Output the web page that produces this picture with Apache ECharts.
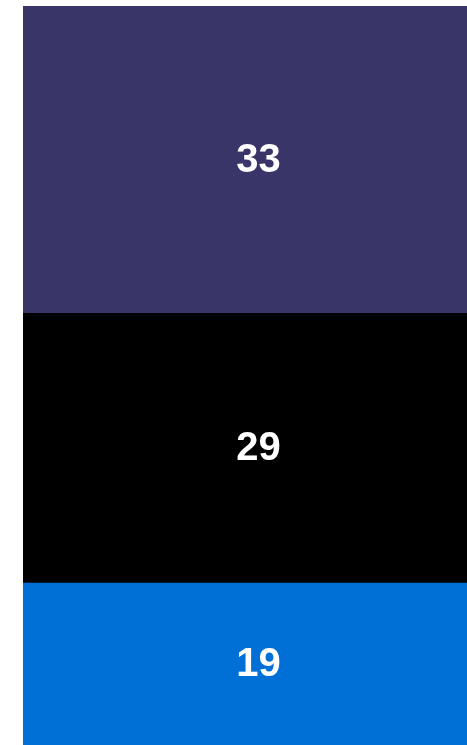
<!DOCTYPE html>
<html><head><meta charset="utf-8">
<script src="https://cdn.jsdelivr.net/npm/echarts@6/dist/echarts.min.js"></script>
<style>html,body{margin:0;padding:0;background:#fff}#c{width:467px;height:745px}</style>
</head><body><div id="c"></div>
<script>
var categories = ['A'];
var seriesNames = ['Bottom', 'Middle', 'Top'];
var bottomValues = [19];
var middleValues = [29];
var topValues = [33];
var colors = ['#0070d6', '#000000', '#3a3569'];

var chart = echarts.init(document.getElementById('c'), null, {renderer: 'canvas'});
var dataSets = [bottomValues, middleValues, topValues];
chart.setOption({
  animation: false,
  grid: {left: 23, right: 0, top: 6, bottom: 0, containLabel: false,
         show: true, borderWidth: 0, backgroundColor: colors[0]},
  xAxis: {type: 'category', data: categories, show: false},
  yAxis: {type: 'value', min: 1.56, max: 81, show: false},
  series: dataSets.map(function (d, i) {
    return {
      name: seriesNames[i], type: 'bar', stack: 'total', data: d,
      barWidth: '100%', itemStyle: {color: colors[i]},
      label: {show: true, position: 'inside', color: '#fff', fontSize: 40, fontWeight: 'bold',
              offset: [13.5, 1],
              fontFamily: '"Liberation Sans", Arial, sans-serif'}
    };
  })
});
// condense label glyphs horizontally (narrow bold face look)
try {
  var zr = chart.getZr();
  zr.storage.getDisplayList(true).forEach(function (el) {
    if (el.type === 'text') {
      el.scaleX = 0.86;
      el.markRedraw();
    }
  });
  zr.refreshImmediately();
} catch (e) {}
</script></body></html>
